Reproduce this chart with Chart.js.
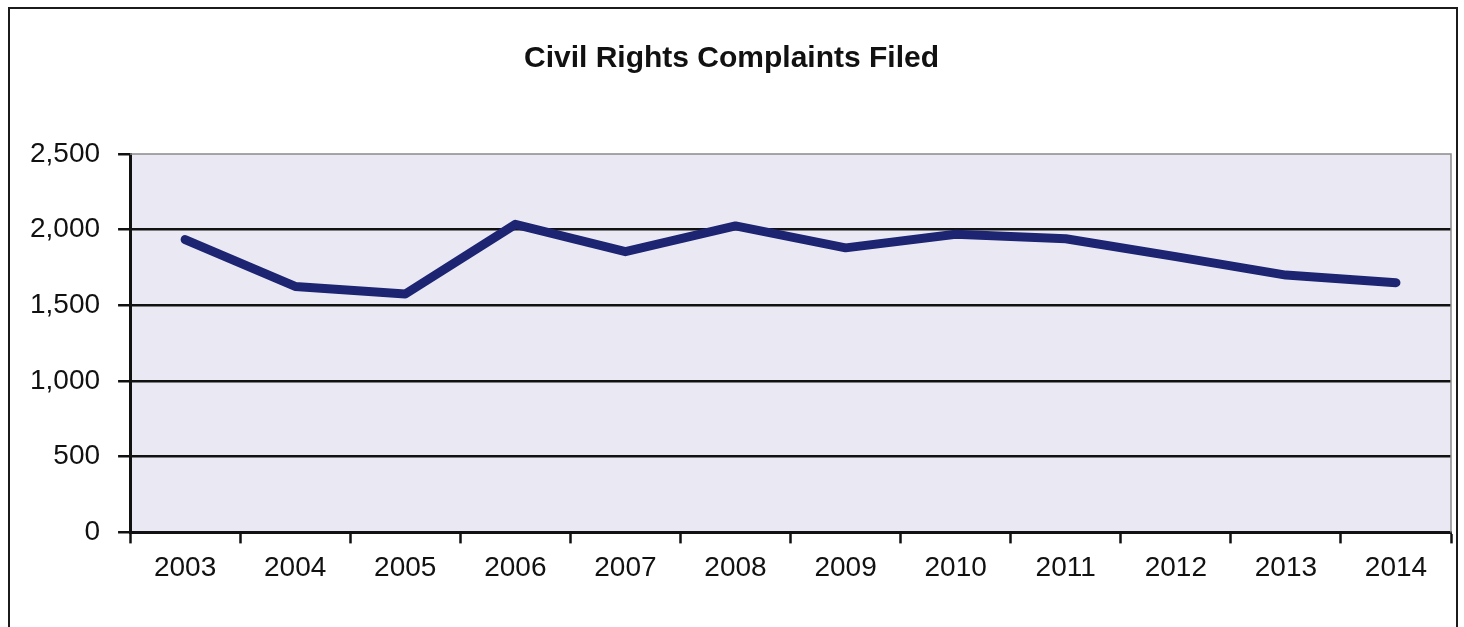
<!DOCTYPE html>
<html>
<head>
<meta charset="utf-8">
<script src="https://cdn.jsdelivr.net/npm/chart.js@4"></script>
<style>
  html, body { margin: 0; padding: 0; background: #fff; }
  #wrap { position: relative; width: 1464px; height: 627px; overflow: hidden; }
  #frame {
    position: absolute; left: 8px; top: 7px; width: 1446px; height: 660px;
    border: 2px solid #1b1b1b;
  }
  canvas { position: absolute; left: 0; top: 0; }
</style>
</head>
<body>
<div id="wrap">
  <div id="frame"></div>
  <canvas id="complaintsChart" width="1464" height="627"></canvas>
</div>
<script>
var years = ['2003', '2004', '2005', '2006', '2007', '2008', '2009', '2010', '2011', '2012', '2013', '2014'];
var complaints = [1935, 1625, 1575, 2035, 1855, 2025, 1880, 1970, 1940, 1822, 1700, 1650];
var yTicks = [0, 500, 1000, 1500, 2000, 2500];

// light panel behind the plot, with a thin grey edge on top and right
var plotPanel = {
    id: 'plotPanel',
    beforeDraw: function (chart) {
        var a = chart.chartArea, c = chart.ctx;
        c.save();
        c.fillStyle = '#eae9f3';
        c.fillRect(a.left, a.top, a.right - a.left, a.bottom - a.top);
        c.restore();
    },
    beforeDatasetsDraw: function (chart) {
        var a = chart.chartArea, c = chart.ctx;
        c.save();
        c.strokeStyle = '#8a8a8a';
        c.lineWidth = 1.5;
        c.beginPath();
        c.moveTo(a.left, a.top);
        c.lineTo(a.right, a.top);
        c.lineTo(a.right, a.bottom);
        c.stroke();
        c.restore();
    }
};

var ctx = document.getElementById('complaintsChart').getContext('2d');

var complaintsChart = new Chart(ctx, {
    type: 'line',
    data: {
        labels: years,
        datasets: [{
            label: 'Complaints',
            data: complaints,
            borderColor: '#1d2572',
            borderWidth: 9,
            borderJoinStyle: 'round',
            borderCapStyle: 'round',
            pointRadius: 0,
            tension: 0,
            fill: false
        }]
    },
    options: {
        responsive: false,
        animation: false,
        layout: {
            padding: { left: 12, right: 13, top: 0, bottom: 34 }
        },
        plugins: {
            legend: { display: false },
            tooltip: { enabled: false },
            title: {
                display: true,
                text: 'Civil Rights Complaints Filed',
                color: '#111',
                font: { family: 'Liberation Sans, Arial, sans-serif', size: 30, weight: 'bold' },
                padding: { top: 41, bottom: 77 }
            }
        },
        scales: {
            x: {
                offset: true,
                border: { color: '#111', width: 3 },
                grid: {
                    offset: true,
                    drawOnChartArea: false,
                    drawTicks: true,
                    tickLength: 11,
                    tickColor: '#111',
                    tickWidth: 2.5
                },
                ticks: {
                    color: '#111',
                    padding: 8,
                    maxRotation: 0,
                    font: { family: 'Liberation Sans, Arial, sans-serif', size: 28 }
                }
            },
            y: {
                min: 0,
                max: 2500,
                border: { color: '#111', width: 3 },
                afterBuildTicks: function (axis) {
                    axis.ticks = yTicks.map(function (v) { return { value: v }; });
                },
                grid: {
                    color: function (c) {
                        return c.tick && c.tick.value === 2500 ? 'rgba(0,0,0,0)' : '#111';
                    },
                    lineWidth: 2.5,
                    tickLength: 12,
                    tickColor: '#111',
                    tickWidth: 2.5
                },
                ticks: {
                    color: '#111',
                    padding: 18,
                    font: { family: 'Liberation Sans, Arial, sans-serif', size: 28 },
                    callback: function (v) { return Number(v).toLocaleString('en-US'); }
                }
            }
        }
    },
    plugins: [plotPanel]
});
</script>
</body>
</html>
